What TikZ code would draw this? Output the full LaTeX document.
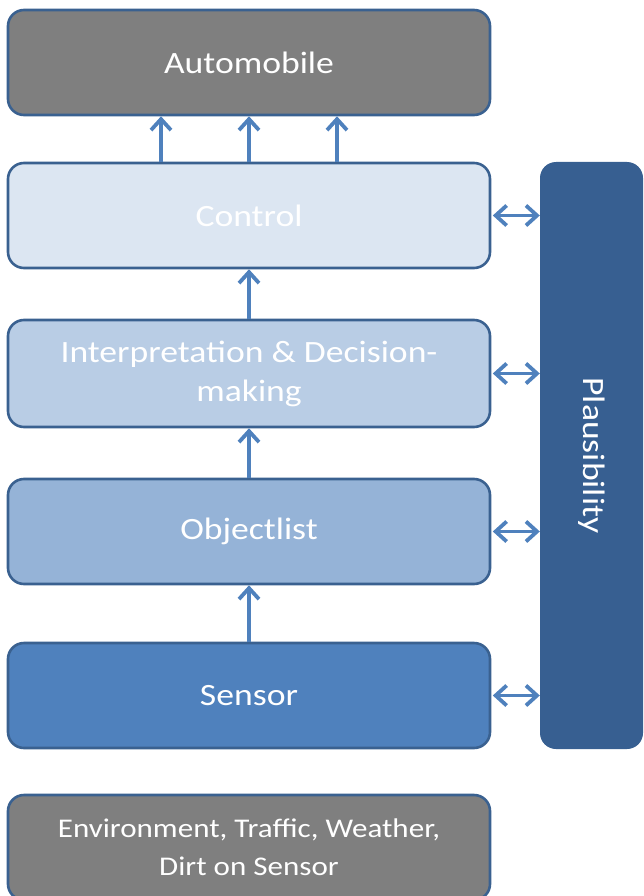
\documentclass[tikz,border=0pt]{standalone}
\usepackage{fontspec}
\setmainfont[FakeStretch=1.15]{Carlito}
\usetikzlibrary{arrows.meta}
\definecolor{edgeblue}{HTML}{3A6190}
\definecolor{arrowblue}{HTML}{4F81BD}
\definecolor{greyfill}{HTML}{7F7F7F}
\definecolor{ctrlfill}{HTML}{DCE6F2}
\definecolor{interpfill}{HTML}{B9CDE5}
\definecolor{objfill}{HTML}{95B3D7}
\definecolor{sensfill}{HTML}{4F81BD}
\definecolor{plausfill}{HTML}{375F91}
\tikzset{
  layer/.style={draw=edgeblue, line width=2.6pt, rounded corners=16pt,
    minimum width=482pt, minimum height=105pt, text=white, align=center,
    font=\fontsize{31}{39}\selectfont, inner sep=0pt},
  barb/.tip={Straight Barb[length=11pt,width=20pt,line width=3.8pt]},
  arr/.style={draw=arrowblue, line width=3.8pt, -barb},
  darr/.style={draw=arrowblue, line width=3.8pt, barb-barb}
}
\begin{document}
\begin{tikzpicture}[x=1pt,y=-1pt]
\useasboundingbox (0,0) rectangle (644,896);
\begin{scope}
\clip (0,0) rectangle (644,896);
\node[layer, fill=greyfill] (auto) at (249,62.5) {Automobile};
\node[layer, fill=ctrlfill] (ctrl) at (249,215.5) {Control};
\node[layer, fill=interpfill, minimum height=107pt] (interp) at (249,373.5) {Interpretation \& Decision-\\making};
\node[layer, fill=objfill] (obj) at (249,531.5) {Objectlist};
\node[layer, fill=sensfill] (sens) at (249,695.5) {Sensor};
\node[layer, fill=greyfill, font=\fontsize{27}{38}\selectfont] (env) at (249,847.5) {Environment, Traffic, Weather,\\Dirt on Sensor};
\node[fill=plausfill, rounded corners=16pt, minimum width=103pt, minimum height=587pt,
  inner sep=0pt] (plaus) at (591.5,455.5) {};
\node[text=white, rotate=-90, font=\fontsize{31}{39}\selectfont] (plabel) at (plaus.center) {Plausibility};
\end{scope}

% upward data flow
\foreach \dx in {-88,0,88}
  \draw[arr] ([xshift=\dx pt]ctrl.north) -- ([xshift=\dx pt]auto.south);
\draw[arr] (interp.north) -- (ctrl.south);
\draw[arr] (obj.north) -- (interp.south);
\draw[arr] (sens.north) -- (obj.south);

% links to the plausibility check
\foreach \n in {ctrl,interp,obj,sens}
  \draw[darr] ([xshift=1.5pt]\n.east) -- (\n.east -| plaus.west);
\end{tikzpicture}
\end{document}
